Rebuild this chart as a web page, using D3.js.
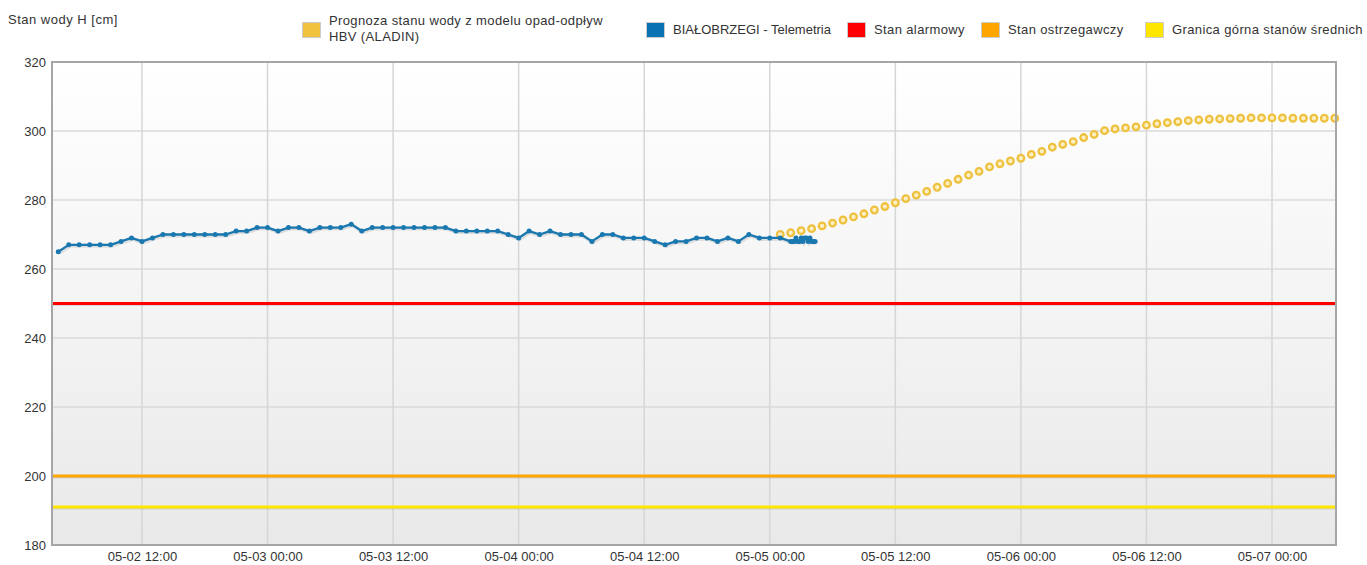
<!DOCTYPE html>
<html>
<head>
<meta charset="utf-8">
<script src="https://cdn.jsdelivr.net/npm/d3@7"></script>
<style>
  body { margin: 0; background: #fff; }
  svg { display: block; font-family: "Liberation Sans", Arial, sans-serif; }
  .tick text { fill: #333; font-size: 13px; }
</style>
</head>
<body>
<div id="chart"></div>
<script>
// telemetry, hourly readings from 05-02 04:00 to 05-05 02:00
var telemetryStart = '2021-05-02T04:00'
var telemetryHourly = [
    265, 267, 267, 267, 267, 267, 268, 269, 268, 269,
    270, 270, 270, 270, 270, 270, 270, 271, 271, 272,
    272, 271, 272, 272, 271, 272, 272, 272, 273, 271,
    272, 272, 272, 272, 272, 272, 272, 272, 271, 271,
    271, 271, 271, 270, 269, 271, 270, 271, 270, 270,
    270, 268, 270, 270, 269, 269, 269, 268, 267, 268,
    268, 269, 269, 268, 269, 268, 270, 269, 269, 269,
    268
]
// then 10 minute readings from 05-05 02:10
var telemetryDenseStart = '2021-05-05T02:10'
var telemetryDense = [268, 268, 269, 268, 268, 269, 268, 269, 269, 268, 269, 268, 268, 268]

// HBV forecast, hourly from 05-05 01:00
var forecastStart = '2021-05-05T01:00'
var forecast = [
    270.0, 270.5, 271.1, 271.7, 272.5, 273.3, 274.2, 275.1, 276.0, 277.1,
    278.1, 279.2, 280.4, 281.4, 282.5, 283.7, 284.8, 286.0, 287.2, 288.3,
    289.6, 290.5, 291.3, 292.1, 293.2, 294.1, 295.3, 296.1, 296.9, 298.1,
    299.0, 300.1, 300.6, 300.9, 301.2, 301.7, 302.1, 302.4, 302.7, 303.0,
    303.2, 303.4, 303.5, 303.6, 303.7, 303.8, 303.8, 303.8, 303.8, 303.7,
    303.7, 303.7, 303.7, 303.7
]

var levelNames = ['Stan alarmowy', 'Stan ostrzegawczy', 'Granica górna stanów średnich']
var levelValues = [250, 200, 191]
var levelColors = ['#ff0000', '#ffa500', '#ffe600']

var yTicks = [180, 200, 220, 240, 260, 280, 300, 320]
var xTickLabels = ['2021-05-02T12:00', '2021-05-03T00:00', '2021-05-03T12:00', '2021-05-04T00:00',
    '2021-05-04T12:00', '2021-05-05T00:00', '2021-05-05T12:00', '2021-05-06T00:00',
    '2021-05-06T12:00', '2021-05-07T00:00']
var xDomain = ['2021-05-02T03:24', '2021-05-07T06:07']

var parse = d3.utcParse('%Y-%m-%dT%H:%M')
var fmt = d3.utcFormat('%m-%d %H:%M')

var telemetry = []
var t0 = parse(telemetryStart)
telemetryHourly.forEach(function (v, i) {
    telemetry.push({ t: d3.utcHour.offset(t0, i), v: v })
})
var t1 = parse(telemetryDenseStart)
telemetryDense.forEach(function (v, i) {
    telemetry.push({ t: d3.utcMinute.offset(t1, i * 10), v: v })
})
var fc = []
var t2 = parse(forecastStart)
forecast.forEach(function (v, i) {
    fc.push({ t: d3.utcHour.offset(t2, i), v: v })
})

var width = 1367, height = 565
var pLeft = 52, pRight = 1336, pTop = 62, pBottom = 545

var x = d3.scaleUtc().domain(xDomain.map(parse)).range([pLeft, pRight])
var y = d3.scaleLinear().domain([180, 320]).range([pBottom, pTop])

var svg = d3.select('#chart').append('svg').attr('width', width).attr('height', height)

var defs = svg.append('defs')
var grad = defs.append('linearGradient').attr('id', 'bg').attr('x1', 0).attr('y1', 0).attr('x2', 0).attr('y2', 1)
grad.append('stop').attr('offset', '0%').attr('stop-color', '#ffffff')
grad.append('stop').attr('offset', '100%').attr('stop-color', '#e9e9e9')

svg.append('rect')
    .attr('x', pLeft).attr('y', pTop)
    .attr('width', pRight - pLeft).attr('height', pBottom - pTop)
    .attr('fill', 'url(#bg)')

// grid
svg.append('g')
    .selectAll('line')
    .data(yTicks)
    .join('line')
    .attr('x1', pLeft).attr('x2', pRight)
    .attr('y1', function (d) { return y(d) }).attr('y2', function (d) { return y(d) })
    .attr('stroke', '#dadada').attr('stroke-width', 1.5)

svg.append('g')
    .selectAll('line')
    .data(xTickLabels.map(parse))
    .join('line')
    .attr('x1', function (d) { return x(d) }).attr('x2', function (d) { return x(d) })
    .attr('y1', pTop).attr('y2', pBottom)
    .attr('stroke', '#d6d6d6').attr('stroke-width', 1.5)

// alarm levels
var lv = svg.append('g')
levelValues.forEach(function (v, i) {
    lv.append('line')
        .attr('x1', pLeft).attr('x2', pRight)
        .attr('y1', y(v) + 1.5).attr('y2', y(v) + 1.5)
        .attr('stroke', '#000').attr('stroke-opacity', 0.12).attr('stroke-width', 2)
    lv.append('line')
        .attr('x1', pLeft).attr('x2', pRight)
        .attr('y1', y(v)).attr('y2', y(v))
        .attr('stroke', levelColors[i]).attr('stroke-width', 3)
})

// forecast dots
svg.append('g')
    .selectAll('circle')
    .data(fc)
    .join('circle')
    .attr('cx', function (d) { return x(d.t) })
    .attr('cy', function (d) { return y(d.v) })
    .attr('r', 3.3)
    .attr('fill', '#fcefc4')
    .attr('stroke', '#eec13f')
    .attr('stroke-width', 2.3)

// telemetry
var line = d3.line().x(function (d) { return x(d.t) }).y(function (d) { return y(d.v) })
svg.append('path')
    .datum(telemetry)
    .attr('d', line)
    .attr('fill', 'none')
    .attr('stroke', '#000').attr('stroke-opacity', 0.1).attr('stroke-width', 4)
    .attr('transform', 'translate(1,1)')
svg.append('path')
    .datum(telemetry)
    .attr('d', line)
    .attr('fill', 'none')
    .attr('stroke', '#1a78b0').attr('stroke-width', 2.3)
    .attr('stroke-linejoin', 'round')
svg.append('g')
    .selectAll('circle')
    .data(telemetry)
    .join('circle')
    .attr('cx', function (d) { return x(d.t) })
    .attr('cy', function (d) { return y(d.v) })
    .attr('r', 2.5)
    .attr('fill', '#1a78b0')

// frame
svg.append('rect')
    .attr('x', pLeft).attr('y', pTop)
    .attr('width', pRight - pLeft).attr('height', pBottom - pTop)
    .attr('fill', 'none').attr('stroke', '#a6a6a6').attr('stroke-width', 2)

// axes
var yAxis = svg.append('g')
    .attr('transform', 'translate(' + (pLeft - 6) + ',0)')
    .call(d3.axisLeft(y).tickValues(yTicks).tickSize(0).tickPadding(0))
yAxis.select('.domain').remove()
yAxis.selectAll('text').attr('dy', '0.35em')

var xAxis = svg.append('g')
    .attr('transform', 'translate(0,' + (pBottom + 7) + ')')
    .call(d3.axisBottom(x).tickValues(xTickLabels.map(parse)).tickFormat(fmt).tickSize(0).tickPadding(0))
xAxis.select('.domain').remove()
xAxis.selectAll('text').attr('dy', '0.71em')

svg.append('text')
    .attr('x', 8).attr('y', 24)
    .attr('font-size', 13).attr('letter-spacing', 0.5).attr('fill', '#333')
    .text('Stan wody H [cm]')

// legend
var legend = [
    { lines: ['Prognoza stanu wody z modelu opad-odpływ', 'HBV (ALADIN)'], color: '#f0c23e', x: 302, ls: 0.38 },
    { lines: ['BIAŁOBRZEGI - Telemetria'], color: '#0a72b3', x: 646, ls: 0 },
    { lines: [levelNames[0]], color: levelColors[0], x: 847, ls: 0.38 },
    { lines: [levelNames[1]], color: levelColors[1], x: 981, ls: 0.38 },
    { lines: [levelNames[2]], color: levelColors[2], x: 1145, ls: 0.38 }
]
var lg = svg.append('g').attr('font-size', 13).attr('fill', '#333')
legend.forEach(function (d) {
    lg.append('rect')
        .attr('x', d.x + 0.5).attr('y', 22.5)
        .attr('width', 18).attr('height', 15)
        .attr('fill', d.color)
        .attr('stroke', '#ccc').attr('stroke-width', 1)
    var ty = d.lines.length > 1 ? 25 : 34
    d.lines.forEach(function (s, i) {
        lg.append('text')
            .attr('x', d.x + 27).attr('y', ty + i * 16)
            .attr('letter-spacing', d.ls)
            .text(s)
    })
})
</script>
</body>
</html>
